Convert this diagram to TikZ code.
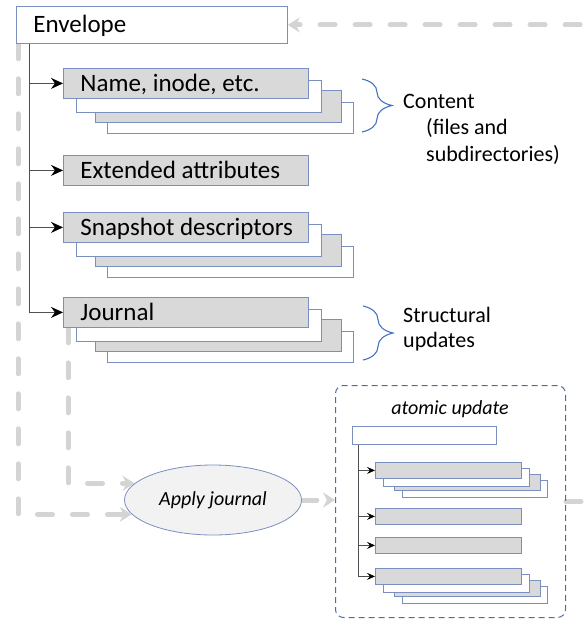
\documentclass[tikz,border=0pt]{standalone}
\usepackage{fontspec}
\setmainfont{Carlito}
\usetikzlibrary{arrows.meta,shapes.geometric,decorations.pathreplacing,calc}

\definecolor{boxline}{HTML}{7A8FBF}
\definecolor{boxfill}{HTML}{D9D9D9}
\definecolor{bracecol}{HTML}{4472C4}
\definecolor{flowgray}{HTML}{D4D4D4}
\definecolor{treecol}{HTML}{505050}
\definecolor{groupcol}{HTML}{4F6BAA}
\definecolor{ellfill}{HTML}{F2F2F2}

\pgfdeclarelayer{bg}
\pgfsetlayers{bg,main}

% back sheets of a large stacked record; #1,#2 = top-left corner of the front sheet
\newcommand\bigstack[2]{%
  \draw[sheetw] (#1+44,#2+34) rectangle (#1+290,#2+65);
  \draw[sheetg] (#1+32,#2+22) rectangle (#1+278,#2+54);
  \draw[sheetw] (#1+13,#2+12) rectangle (#1+258,#2+44);
}
% back sheets of a small stacked record
\newcommand\smallstack[2]{%
  \draw[sheetw] (#1+27,#2+18) rectangle (#1+172,#2+35);
  \draw[sheetg] (#1+19,#2+12) rectangle (#1+165,#2+28);
  \draw[sheetw] (#1+8,#2+6) rectangle (#1+154,#2+24);
}
% left-set label of fixed width inside a record box
\newcommand\rectext[2]{\makebox[#1][l]{#2}}

\tikzset{
  sheetw/.style={draw=boxline, line width=0.8pt, fill=white},
  sheetg/.style={draw=boxline, line width=0.8pt, fill=boxfill},
  boxtext/.style={font=\fontsize{25}{30}\selectfont, text height=16pt, text depth=0pt},
  envbox/.style={draw=boxline, line width=0.8pt, fill=white, anchor=north west,
    minimum height=37pt, inner xsep=17pt, inner ysep=0pt, boxtext},
  recbox/.style={draw=boxline, line width=0.8pt, fill=boxfill, anchor=north west,
    minimum height=30pt, inner xsep=17pt, inner ysep=0pt, boxtext},
  minibox/.style={draw=boxline, line width=0.8pt, fill=boxfill, anchor=north west,
    minimum width=146pt, minimum height=16pt, inner sep=0pt},
  minienvbox/.style={draw=boxline, line width=0.8pt, fill=white, anchor=north west,
    minimum width=144pt, minimum height=18pt, inner sep=0pt},
  trunkline/.style={draw=treecol, line width=0.9pt},
  treearrow/.style={draw=treecol, line width=0.9pt,
    -{Stealth[length=12pt, width=11pt, inset=4pt, color=black]}},
  minitrunk/.style={draw=treecol, line width=0.7pt},
  miniarrow/.style={draw=treecol, line width=0.7pt,
    -{Stealth[length=8pt, width=7pt, inset=3pt, color=black]}},
  bracestyle/.style={draw=bracecol, line width=1.1pt, decorate,
    decoration={brace, amplitude=30pt}},
  sidetext/.style={anchor=west, inner sep=0pt, font=\fontsize{22}{26}\selectfont},
  flow/.style={draw=flowgray, line width=5pt, line cap=round,
    dash pattern=on 15pt off 20pt,
    -{Stealth[length=12pt, width=15pt, inset=4pt, color=flowgray]}},
  flowplain/.style={draw=flowgray, line width=5pt, line cap=round,
    dash pattern=on 15pt off 20pt},
  applyell/.style={ellipse, draw=boxline, line width=0.8pt, fill=ellfill,
    minimum width=177pt, minimum height=70pt, inner sep=0pt,
    font=\fontsize{20}{24}\selectfont\itshape},
  groupbox/.style={draw=groupcol, line width=1pt, dash pattern=on 6pt off 4pt,
    rounded corners=8pt, anchor=north west, minimum width=230pt,
    minimum height=232pt, inner sep=0pt},
}

\begin{document}
\begin{tikzpicture}[x=1pt, y=-1pt]
\useasboundingbox (0,0) rectangle (587,619);
\clip (0,0) rectangle (587,619);

% directory envelope and its records
\node[envbox] (env) at (16,6) {\rectext{237pt}{Envelope}};

\bigstack{63}{68}
\node[recbox] (name) at (63,68) {\rectext{211pt}{Name, inode, etc.}};
\node[recbox] (ext) at (63,155) {\rectext{211pt}{Extended attributes}};
\bigstack{63}{212}
\node[recbox] (snap) at (63,212) {\rectext{211pt}{Snapshot descriptors}};
\bigstack{63}{297}
\node[recbox] (jour) at (63,297) {\rectext{211pt}{Journal}};

\coordinate (trunk) at ($(env.south west)+(13,0)$);
\draw[trunkline] (trunk) -- (trunk |- jour.west);
\foreach \n in {name,ext,snap,jour}
  \draw[treearrow] (trunk |- \n.west) -- (\n.west);

% braces and their captions
\coordinate (cbtop) at (362,79);
\coordinate (cbbot) at (362,132);
\draw[bracestyle] (cbtop) -- (cbbot);
\node[sidetext] (content) at (403,101) {Content};
\node[sidetext] (content2) at (426,128) {(files and};
\node[sidetext] (content3) at (426,155) {subdirectories)};

\coordinate (sbtop) at (363,306);
\coordinate (sbbot) at (363,360);
\draw[bracestyle] (sbtop) -- (sbbot);
\node[sidetext] (struct) at (403,315) {Structural};
\node[sidetext] (struct2) at (403,342) {updates};

% journal replay
\node[applyell] (apply) at (213,500) {Apply journal};

% the atomic update group
\node[groupbox] (atomic) at (335,385) {};
\node[inner sep=0pt, font=\fontsize{20}{24}\selectfont\itshape] (atlabel) at (450,409) {atomic update};

\node[minienvbox] (menv) at (352,426) {};
\smallstack{375}{462}
\node[minibox] (m1) at (375,462) {};
\node[minibox] (m2) at (375,508) {};
\node[minibox] (m3) at (375,537) {};
\smallstack{375}{568}
\node[minibox] (m4) at (375,568) {};

\coordinate (mtrunk) at ($(menv.south west)+(6,0)$);
\draw[minitrunk] (mtrunk) -- (mtrunk |- m4.west);
\foreach \n in {m1,m2,m3,m4}
  \draw[miniarrow] (mtrunk |- \n.west) -- (\n.west);

% data flow (drawn underneath)
\begin{pgfonlayer}{bg}
  \coordinate (loopL) at ($(env.south west)+(2,0)$);
  \coordinate (jdrop) at ($(jour.south west)+(5,0)$);
  \coordinate (loopR) at (610,100);
  \draw[flow] (loopL) |- (apply.190);
  \draw[flow] (jdrop) |- (apply.168);
  \draw[flow] (apply.east) -- (apply.east -| atomic.west);
  \draw[flowplain] (atomic.east) -| (loopR);
  \draw[flow] (loopR) |- (env.east);
\end{pgfonlayer}
\end{tikzpicture}
\end{document}
